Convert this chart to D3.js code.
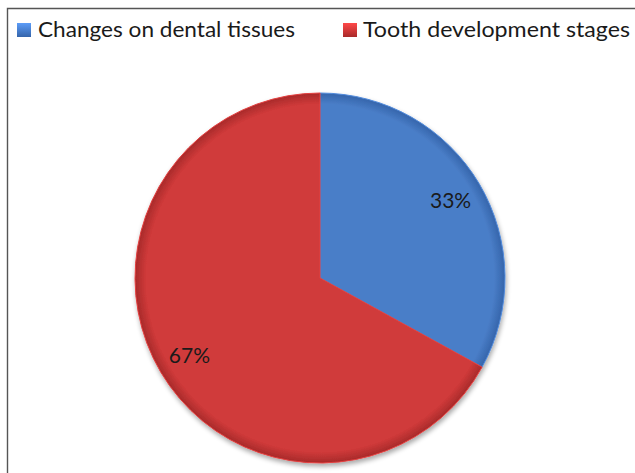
<!DOCTYPE html>
<html>
<head>
<meta charset="utf-8">
<script src="https://cdn.jsdelivr.net/npm/d3@7/dist/d3.min.js"></script>
<style>
  html, body { margin: 0; padding: 0; background: #ffffff; }
  svg { display: block; }
</style>
</head>
<body>
<svg id="chart" width="635" height="473"></svg>
<script>
// Share of studies by topic
const categories = ["Changes on dental tissues", "Tooth development stages"];
const values = [33, 67];
const labels = ["33%", "67%"];
const colors = ["#4a7ec8", "#d03a3a"];
const darkColors = ["#3565ab", "#a82a2a"];

const W = 635, H = 473;
const svg = d3.select("#chart");
const font = "Lato, 'Open Sans', sans-serif";

// Frame around the plot area
svg.append("path")
  .attr("d", `M7.5,${H} V8.5 H${W}`)
  .attr("fill", "none")
  .attr("stroke", "#555")
  .attr("stroke-width", 1.4);

const cx = 320, cy = 278, r = 185;
const defs = svg.append("defs");

categories.forEach((c, i) => {
  // radial shading in the pie group's local space (centre at 0,0)
  const g = defs.append("radialGradient")
    .attr("id", "grad" + i)
    .attr("gradientUnits", "userSpaceOnUse")
    .attr("cx", 0).attr("cy", 0).attr("r", r);
  g.append("stop").attr("offset", "0").attr("stop-color", colors[i]);
  g.append("stop").attr("offset", "0.94").attr("stop-color", colors[i]);
  g.append("stop").attr("offset", "1").attr("stop-color", darkColors[i]);

  const lg = defs.append("linearGradient")
    .attr("id", "leg" + i)
    .attr("x1", 0).attr("y1", 0).attr("x2", 0).attr("y2", 1);
  lg.append("stop").attr("offset", "0").attr("stop-color", d3.color(colors[i]).brighter(0.6));
  lg.append("stop").attr("offset", "1").attr("stop-color", darkColors[i]);
});

const filt = defs.append("filter").attr("id", "soft")
  .attr("x", "-10%").attr("y", "-10%").attr("width", "120%").attr("height", "120%");
filt.append("feGaussianBlur").attr("in", "SourceAlpha").attr("stdDeviation", 2.5);
filt.append("feOffset").attr("dx", 1).attr("dy", 3).attr("result", "b");
filt.append("feComponentTransfer").append("feFuncA").attr("type", "linear").attr("slope", 0.35);
const fm = filt.append("feMerge");
fm.append("feMergeNode");
fm.append("feMergeNode").attr("in", "SourceGraphic");

const pie = d3.pie().sort(null).value(d => d);
const arcs = pie(values);
const arc = d3.arc().innerRadius(0).outerRadius(r);
const labelArc = d3.arc().innerRadius(r * 0.82).outerRadius(r * 0.82);

const g = svg.append("g").attr("transform", `translate(${cx},${cy})`);
g.append("g").attr("filter", "url(#soft)")
  .selectAll("path")
  .data(arcs)
  .join("path")
  .attr("d", arc)
  .attr("fill", (d, i) => `url(#grad${i})`)
  .attr("stroke", (d, i) => d3.color(colors[i]).brighter(0.25))
  .attr("stroke-width", 1);

g.selectAll("text")
  .data(arcs)
  .join("text")
  .attr("transform", d => {
    const [x, y] = labelArc.centroid(d);
    return `translate(${x},${y})`;
  })
  .attr("text-anchor", "middle")
  .attr("dy", "0.35em")
  .attr("font-family", font)
  .attr("font-size", 21)
  .attr("fill", "#1a1a1a")
  .text((d, i) => labels[i]);

// Legend
const legendX = [17, 343];
const textX = [38, 363];
const textW = [257, 267];
const leg = svg.append("g");
categories.forEach((c, i) => {
  leg.append("rect")
    .attr("x", legendX[i]).attr("y", 23)
    .attr("width", 14).attr("height", 14)
    .attr("fill", `url(#leg${i})`);
  leg.append("text")
    .attr("x", textX[i]).attr("y", 37)
    .attr("font-family", font)
    .attr("font-size", 21)
    .attr("fill", "#1a1a1a")
    .attr("textLength", textW[i])
    .attr("lengthAdjust", "spacingAndGlyphs")
    .text(c);
});
</script>
</body>
</html>
